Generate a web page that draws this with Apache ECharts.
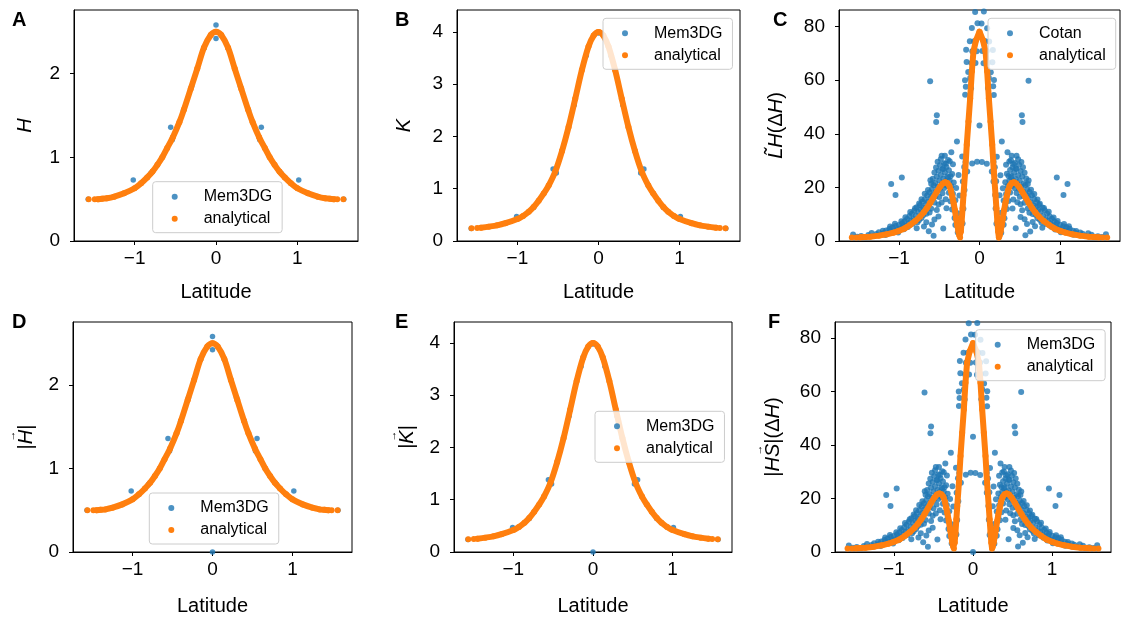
<!DOCTYPE html>
<html><head><meta charset="utf-8">
<script src="https://cdn.jsdelivr.net/npm/echarts@6/dist/echarts.min.js"></script>
<style>html,body{margin:0;padding:0;background:#fff}#c{width:1122px;height:618px}</style>
</head><body><div id="c"></div>
<script>
// ---------- tick labels ----------
const latTicks = [-1, 0, 1];
const hTicks = [0, 1, 2];
const kTicks = [0, 1, 2, 3, 4];
const lapTicks = [0, 20, 40, 60, 80];

// ---------- A / D : mean curvature ----------
const hAnalytical = [
 [-1.565,0.50],[-1.52,null],[-1.49,0.50],[-1.47,null],[-1.45,0.50],[-1.40,0.505],[-1.34,0.51],[-1.25,0.53],[-1.13,0.57],[-1.0,0.63],[-0.92,0.69],[-0.845,0.76],[-0.78,0.83],[-0.72,0.91],[-0.66,1.0],[-0.6,1.11],[-0.53,1.24],[-0.45,1.42],[-0.394,1.57],[-0.31,1.82],[-0.23,2.06],[-0.148,2.31],[-0.065,2.46],[0,2.50],
 [0.065,2.46],[0.148,2.31],[0.23,2.06],[0.31,1.82],[0.394,1.57],[0.45,1.42],[0.53,1.24],[0.6,1.11],[0.66,1.0],[0.72,0.91],[0.78,0.83],[0.845,0.76],[0.92,0.69],[1.0,0.63],[1.13,0.57],[1.25,0.53],[1.34,0.51],[1.40,0.505],[1.45,0.50],[1.47,null],[1.49,0.50],[1.52,null],[1.565,0.50]
];
const hMem3dg = [
 [-1.57,0.5],[-1.017,0.73],[-0.8,0.81],[-0.557,1.36],[-0.537,1.21],[-0.4,1.56],[-0.3,1.85],[-0.15,2.30],[0,2.58],[0,2.42],
 [0.15,2.30],[0.3,1.85],[0.4,1.56],[0.537,1.21],[0.557,1.36],[0.8,0.81],[1.017,0.73],[1.57,0.5]
];

// ---------- B / E : Gaussian curvature ----------
const kAnalytical = [
 [-1.566,0.243],[-1.52,null],[-1.496,0.25],[-1.475,null],[-1.45,0.255],[-1.353,0.275],[-1.25,0.30],[-1.148,0.34],[-1.0,0.42],[-0.93,0.48],[-0.86,0.56],[-0.80,0.65],[-0.738,0.77],[-0.675,0.91],[-0.615,1.06],[-0.533,1.33],[-0.45,1.72],[-0.369,2.18],[-0.287,2.72],[-0.205,3.27],[-0.123,3.72],[-0.06,3.93],[0,4.0],
 [0.06,3.93],[0.123,3.72],[0.205,3.27],[0.287,2.72],[0.369,2.18],[0.45,1.72],[0.533,1.33],[0.615,1.06],[0.675,0.91],[0.738,0.77],[0.80,0.65],[0.86,0.56],[0.93,0.48],[1.0,0.42],[1.148,0.34],[1.25,0.30],[1.353,0.275],[1.45,0.255],[1.475,null],[1.496,0.25],[1.52,null],[1.566,0.243]
];
const kMem3dg = [
 [-1.57,0.24],[-1.01,0.47],[-0.8,0.64],[-0.56,1.38],[-0.52,1.30],[-0.3,2.6],[-0.15,3.55],[0,3.98],
 [0.15,3.55],[0.3,2.6],[0.52,1.30],[0.56,1.38],[0.8,0.64],[1.01,0.47],[1.57,0.24]
];

// ---------- C / F : Laplacian of H ----------
const lapAnalytical = [
 [-1.586,1.3],[-1.55,null],[-1.53,1.3],[-1.505,null],[-1.48,1.4],[-1.42,1.5],[-1.36,1.6],[-1.25,2.0],[-1.15,2.5],[-1.07,3.1],[-1.006,3.7],[-0.93,4.7],[-0.862,6.0],[-0.80,7.4],[-0.738,9.1],[-0.695,10.6],[-0.655,12.2],[-0.612,14.2],[-0.572,16.2],[-0.53,18.4],[-0.489,20.3],[-0.455,21.5],[-0.427,21.9],[-0.40,21.6],[-0.375,20.6],[-0.355,18.8],[-0.338,16.6],[-0.323,14.4],[-0.305,11.5],[-0.29,8.5],[-0.275,5.8],[-0.261,3.5],[-0.25,2.0],[-0.241,1.3],[-0.232,3.5],[-0.222,7.2],[-0.21,12.2],[-0.199,17.2],[-0.178,25.9],[-0.158,35.9],[-0.137,44.6],[-0.116,53.3],[-0.095,63.3],[-0.075,70.8],[-0.042,75.0],[0,78.1],
 [0.042,75.0],[0.075,70.8],[0.095,63.3],[0.116,53.3],[0.137,44.6],[0.158,35.9],[0.178,25.9],[0.199,17.2],[0.21,12.2],[0.222,7.2],[0.232,3.5],[0.241,1.3],[0.25,2.0],[0.261,3.5],[0.275,5.8],[0.29,8.5],[0.305,11.5],[0.323,14.4],[0.338,16.6],[0.355,18.8],[0.375,20.6],[0.40,21.6],[0.427,21.9],[0.455,21.5],[0.489,20.3],[0.53,18.4],[0.572,16.2],[0.612,14.2],[0.655,12.2],[0.695,10.6],[0.738,9.1],[0.80,7.4],[0.862,6.0],[0.93,4.7],[1.006,3.7],[1.07,3.1],[1.15,2.5],[1.25,2.0],[1.36,1.6],[1.42,1.5],[1.48,1.4],[1.505,null],[1.53,1.3],[1.55,null],[1.586,1.3]
];
const lapCotan = [
 [-1.57,2.4],[-1.52,1.6],[-1.47,1.9],[-1.42,1.5],[-1.38,2.2],[-1.34,3.0],[-1.31,1.9],[-1.28,2.6],[-1.25,3.3],[-1.22,2.4],[-1.19,3.0],[-1.16,3.9],[-1.14,2.9],[-1.12,4.5],[-1.10,3.6],[-1.08,5.0],[-1.06,3.8],[-1.04,5.6],[-1.02,4.4],[-1.00,6.0],[-0.98,4.8],[-0.96,6.6],[-0.95,5.3],[-0.93,7.4],[-0.91,5.8],[-0.90,8.2],[-0.88,6.6],[-0.87,9.3],[-0.85,7.6],[-0.84,10.2],[-0.82,8.2],[-0.81,11.4],[-0.79,9.4],[-0.78,12.6],[-0.77,7.0],[-0.76,10.8],[-0.74,13.4],[-0.73,11.8],[-0.72,8.6],[-0.71,14.6],[-0.70,12.4],[-0.69,5.4],[-0.68,15.6],[-0.67,13.4],[-0.66,10.2],[-0.65,17.0],[-0.64,14.6],[-0.63,3.6],[-0.62,18.2],[-0.61,16.0],[-0.61,22.7],[-0.60,12.0],[-0.59,19.4],[-0.58,17.2],[-0.57,20.8],[-0.57,2.0],[-0.56,14.4],[-0.56,8.0],[-0.55,21.6],[-0.54,18.4],[-0.53,24.0],[-0.53,11.6],[-0.52,20.2],[-0.51,26.2],[-0.51,9.1],[-0.50,22.6],[-0.50,16.4],[-0.49,28.4],[-0.49,19.6],[-0.48,24.6],[-0.47,21.2],[-0.47,31.8],[-0.46,26.8],[-0.46,17.8],[-0.45,23.2],[-0.45,4.7],[-0.44,29.0],[-0.44,19.8],[-0.43,25.6],[-0.43,31.8],[-0.42,22.4],[-0.42,15.6],[-0.41,27.6],[-0.41,12.2],[-0.40,20.6],[-0.40,24.2],[-0.39,30.2],[-0.38,18.0],[-0.38,26.4],[-0.37,22.6],[-0.36,14.8],[-0.35,33.1],[-0.35,20.4],[-0.34,11.8],[-0.34,25.0],[-0.33,17.6],[-0.32,21.8],[-0.31,8.6],[-0.30,6.0],[-0.30,15.2],[-0.28,37.1],[-0.27,3.2],[-0.27,10.4],
 [-1.2,3.8],[-1.17,2.2],[-1.11,5.4],[-1.05,6.4],[-1.01,3.2],[-0.97,7.4],[-0.94,4.4],[-0.92,8.9],[-0.89,5.2],[-0.86,10.8],[-0.83,6.4],[-0.8,12.2],[-0.78,4.8],[-0.75,14.0],[-0.75,7.8],[-0.72,15.6],[-0.7,9.6],[-0.68,17.6],[-0.66,7.0],[-0.64,19.0],[-0.62,10.6],[-0.6,21.4],[-0.59,6.2],[-0.58,23.2],[-0.56,25.6],[-0.55,16.6],[-0.54,27.4],[-0.52,29.6],[-0.51,13.6],[-0.48,30.6],[-0.47,14.4],[-0.45,27.0],[-0.43,21.0],[-0.42,28.8],[-0.39,23.6],[-0.37,29.8],[-0.36,24.2],[-0.33,28.6],[-0.32,13.2],[-0.29,19.8],[-0.26,24.6],[-0.25,17.0],
 [-0.613,59.6],[-0.53,46.9],[-0.538,44.4],[-1.097,21.3],[-0.965,23.7],[-1.043,17.2],
 [-0.215,31.5],[-0.207,22.2],[-0.19,27.6],[-0.174,29.5],[-0.2,12.0],[-0.21,6.5],[-0.091,28.9],[-0.03,29.6],[-0.153,25.9],[-0.186,19.0],[-0.166,71.4],[-0.178,54.6],[-0.17,57.6],[-0.18,60.0],[-0.14,63.1],[-0.116,60.8],[-0.105,57.0],[-0.16,66.8],[-0.10,66.4],[-0.05,66.4],[-0.12,74.5],[-0.066,74.5],[-0.09,70.8],[-0.075,70.8],[-0.035,70.8],[-0.095,79.5],[-0.054,85.5],[-0.025,81.3],
 [0,43.1],
 [0.025,81.2],[0.054,85.6],[0.095,79.4],[0.035,70.9],[0.075,70.7],[0.09,70.9],[0.066,74.6],[0.12,74.4],[0.05,66.3],[0.10,66.5],[0.16,66.7],[0.105,57.1],[0.116,60.9],[0.14,63.0],[0.18,60.1],[0.17,57.7],[0.178,54.5],[0.166,71.3],[0.153,25.9],[0.174,22.2],[0.195,17.2],[0.03,29.5],[0.091,28.8],[0.21,6.4],[0.2,12.1],[0.174,29.6],[0.19,27.5],[0.207,22.3],[0.215,31.4],
 [1.093,21.3],[0.96,23.7],[1.043,17.2],[0.609,59.8],[0.526,46.9],[0.534,44.4],
 [1.2,3.7],[1.17,2.3],[1.11,5.5],[1.05,6.3],[1.01,3.3],[0.97,7.5],[0.94,4.3],[0.92,8.8],[0.89,5.3],[0.86,10.9],[0.83,6.3],[0.8,12.3],[0.78,4.9],[0.75,13.9],[0.75,7.9],[0.72,15.5],[0.7,9.7],[0.68,17.5],[0.66,7.1],[0.64,19.1],[0.62,10.5],[0.6,21.3],[0.59,6.3],[0.58,23.3],[0.56,25.5],[0.55,16.7],[0.54,27.5],[0.52,29.5],[0.51,13.7],[0.48,30.5],[0.47,14.5],[0.45,27.1],[0.43,21.1],[0.42,28.7],[0.39,23.7],[0.37,29.7],[0.36,24.3],[0.33,28.5],[0.32,13.3],[0.29,19.7],[0.26,24.5],[0.25,17.1],
 [1.57,2.5],[1.52,1.5],[1.47,1.8],[1.43,1.6],[1.39,2.3],[1.35,2.9],[1.31,2.0],[1.28,2.7],[1.25,3.2],[1.22,2.3],[1.19,3.1],[1.16,3.8],[1.14,2.8],[1.12,4.6],[1.10,3.5],[1.08,5.1],[1.06,3.9],[1.04,5.5],[1.02,4.3],[1.00,6.1],[0.98,4.7],[0.96,6.7],[0.95,5.2],[0.93,7.3],[0.91,5.9],[0.90,8.3],[0.88,6.5],[0.87,9.2],[0.85,7.5],[0.84,10.3],[0.82,8.1],[0.81,11.5],[0.79,9.3],[0.78,12.5],[0.77,6.9],[0.76,10.9],[0.74,13.5],[0.73,11.7],[0.72,8.5],[0.71,14.5],[0.70,12.5],[0.69,5.5],[0.68,15.7],[0.67,13.3],[0.66,10.1],[0.65,17.1],[0.64,14.5],[0.63,3.5],[0.62,18.3],[0.61,16.1],[0.61,22.6],[0.60,12.1],[0.59,19.3],[0.58,17.3],[0.57,20.9],[0.57,2.1],[0.56,14.3],[0.56,8.1],[0.55,21.5],[0.54,18.5],[0.53,24.1],[0.53,11.5],[0.52,20.3],[0.51,26.1],[0.51,9.0],[0.50,22.5],[0.50,16.5],[0.49,28.5],[0.49,19.5],[0.48,24.5],[0.47,21.3],[0.46,31.8],[0.46,26.9],[0.46,17.9],[0.45,23.1],[0.45,4.8],[0.44,29.1],[0.44,19.7],[0.43,25.5],[0.40,31.8],[0.42,22.5],[0.42,15.5],[0.41,27.5],[0.41,12.1],[0.40,20.5],[0.40,24.3],[0.39,30.1],[0.38,18.1],[0.38,26.5],[0.37,22.5],[0.36,14.9],[0.348,33.1],[0.35,20.5],[0.34,11.9],[0.34,25.1],[0.33,17.5],[0.32,21.9],[0.31,8.5],[0.30,6.1],[0.30,15.1],[0.277,37.1],[0.27,3.1],[0.27,10.5]
];
// extra vertex at the origin seen in the bottom-row panels
const bottomRowExtra = [[0, 0]];

// ---------- build ----------
const FONT = '"Liberation Sans", Arial, Helvetica, sans-serif';
const BLUE = '#1f77b4', ORANGE = '#ff7f0e';
const panels = [
 {letter:'A', lt:[12,10],  g:[74,10,284,231],  ymax:2.76, yt:hTicks,   blue:hMem3dg, blueName:'Mem3DG', orange:hAnalytical, yName:'{i|H}', yGap:38, xGap:41, lg:[152.7,181.7], smooth:0.3, bs:5.5},
 {letter:'B', lt:[395,10], g:[457,10,283,231], ymax:4.42, yt:kTicks,   blue:kMem3dg, blueName:'Mem3DG', orange:kAnalytical, yName:'{i|K}', yGap:42, xGap:41, lg:[603,18.3], smooth:0.3, bs:5.5},
 {letter:'C', lt:[773,10], g:[839,10,281,231], ymax:86.2, yt:lapTicks, blue:lapCotan, blueName:'Cotan', orange:lapAnalytical, yName:'{i|L\u0303H}{n|(Δ}{i|H}{n|)}', yGap:52, xGap:41, lg:[988,18.3], smooth:false, bs:6},
 {letter:'D', lt:[12,312], g:[73,322,279,230], ymax:2.753, yt:hTicks, blue:hMem3dg.concat(bottomRowExtra), blueName:'Mem3DG', orange:hAnalytical, yName:'{a|→}\n{n||}{i|H}{n||}', yGap:36, xGap:44, lg:[149.3,493], smooth:0.3, bs:5.5},
 {letter:'E', lt:[395,312],g:[454,322,278,230], ymax:4.40, yt:kTicks,  blue:kMem3dg.concat(bottomRowExtra), blueName:'Mem3DG', orange:kAnalytical, yName:'{a|→}\n{n||}{i|K}{n||}', yGap:36, xGap:44, lg:[595,411.3], smooth:0.3, bs:5.5},
 {letter:'F', lt:[768,312],g:[835,322,276,230], ymax:86.0, yt:lapTicks,blue:lapCotan.concat(bottomRowExtra), blueName:'Mem3DG', orange:lapAnalytical, yName:'{b|→}\n{n||}{i|HS}{n||(Δ}{i|H}{n|)}', yGap:51, xGap:44, lg:[975.7,329.7], smooth:false, bs:6}
];
const fmt = v => (v < 0 ? '\u2212' + Math.abs(v) : String(v));
const nameRich = {
 i: {fontStyle: 'italic', fontSize: 20, lineHeight: 22, color: '#000', fontFamily: FONT},
 n: {fontSize: 20, lineHeight: 22, color: '#000', fontFamily: FONT},
 a: {fontSize: 11, lineHeight: 6, color: '#000', fontFamily: FONT, padding: [0, 0, 0, 2]},
 b: {fontSize: 11, lineHeight: 6, color: '#000', fontFamily: FONT, padding: [0, 26, 0, 0]}
};

const option = {
 animation: false,
 textStyle: {fontFamily: FONT},
 title: panels.map(p => ({text: p.letter, left: p.lt[0], top: p.lt[1], padding: 0,
   textStyle: {fontSize: 20, fontWeight: 'bold', color: '#000', fontFamily: FONT}})),
 grid: panels.map(p => ({left: p.g[0], top: p.g[1], width: p.g[2], height: p.g[3], show: true,
   borderColor: '#000', borderWidth: 1, backgroundColor: 'transparent', outerBoundsMode: 'none', containLabel: false})),
 xAxis: panels.map((p, i) => ({gridIndex: i, type: 'value', min: -1.745, max: 1.745,
   axisLine: {show: true, onZero: false, lineStyle: {color: '#000', width: 1}},
   axisTick: {show: true, inside: false, length: 4, lineStyle: {color: '#000', width: 1}, customValues: latTicks},
   axisLabel: {customValues: latTicks, formatter: fmt, fontSize: 19, color: '#000', margin: 8, fontFamily: FONT},
   splitLine: {show: false},
   name: 'Latitude', nameLocation: 'middle', nameGap: p.xGap, nameMoveOverlap: false,
   nameTextStyle: {fontSize: 20, color: '#000', fontFamily: FONT}})),
 yAxis: panels.map((p, i) => ({gridIndex: i, type: 'value', min: 0, max: p.ymax,
   axisLine: {show: true, onZero: false, lineStyle: {color: '#000', width: 1}},
   axisTick: {show: true, inside: false, length: 4, lineStyle: {color: '#000', width: 1}, customValues: p.yt},
   axisLabel: {customValues: p.yt, formatter: fmt, fontSize: 19, color: '#000', margin: 14, fontFamily: FONT},
   splitLine: {show: false},
   name: p.yName, nameLocation: 'middle', nameGap: p.yGap, nameMoveOverlap: false,
   nameTextStyle: {fontSize: 20, color: '#000', fontFamily: FONT, rich: nameRich}})),
 legend: panels.map(p => ({left: p.lg[0], top: p.lg[1], orient: 'vertical',
   data: [{name: p.blueName, icon: 'circle'}, {name: 'analytical', icon: 'circle'}],
   itemWidth: 6, itemHeight: 6, itemGap: 6, padding: [7, 10, 6, 19],
   backgroundColor: 'rgba(255,255,255,0.8)', borderColor: '#cccccc', borderWidth: 1, borderRadius: 3,
   formatter: '{t|{name}}', selectedMode: false,
   textStyle: {fontSize: 16, color: '#000', fontFamily: FONT,
     rich: {t: {fontSize: 16, color: '#000', fontFamily: FONT, padding: [0, 0, 0, 21]}}}})),
 series: []
};
panels.forEach((p, i) => {
 option.series.push({type: 'scatter', name: p.blueName, xAxisIndex: i, yAxisIndex: i, data: p.blue,
   symbol: 'circle', symbolSize: p.bs, itemStyle: {color: BLUE}, z: 2, emphasis: {disabled: true}});
 option.series.push({type: 'line', name: 'analytical', xAxisIndex: i, yAxisIndex: i, data: p.orange,
   symbol: 'circle', symbolSize: 6, showSymbol: true, showAllSymbol: true, smooth: p.smooth, connectNulls: false,
   lineStyle: {width: 6, color: ORANGE, cap: 'round', join: 'round'}, itemStyle: {color: ORANGE, borderWidth: 0},
   z: 3, emphasis: {disabled: true}});
});
const chart = echarts.init(document.getElementById('c'), null, {renderer: 'canvas'});
chart.setOption(option);
</script></body></html>
